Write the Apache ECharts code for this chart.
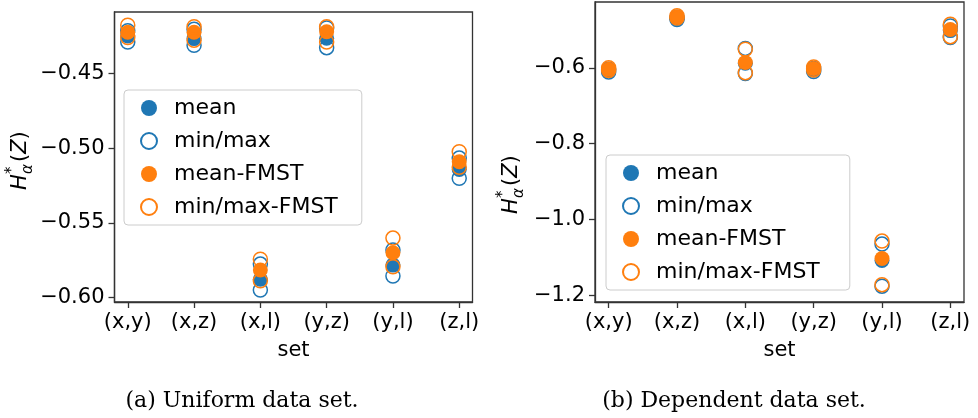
<!DOCTYPE html>
<html>
<head>
<meta charset="utf-8">
<script src="https://cdn.jsdelivr.net/npm/echarts@6/dist/echarts.min.js"></script>
<style>
  html, body { margin: 0; padding: 0; background: #fff; }
  #chart { width: 978px; height: 418px; }
</style>
</head>
<body>
<div id="chart"></div>
<script>
// Pair labels on the x axis
const categories = ['(x,y)', '(x,z)', '(x,l)', '(y,z)', '(y,l)', '(z,l)'];

// Uniform data set
const uniMean  = [-0.4248, -0.4266, -0.5878, -0.4264, -0.5783, -0.5142];
const uniMin   = [-0.4289, -0.4311, -0.5950, -0.4327, -0.5856, -0.5202];
const uniMax   = [-0.4213, -0.4204, -0.5776, -0.4195, -0.5682, -0.5066];
const uniMeanF = [-0.4224, -0.4224, -0.5816, -0.4220, -0.5700, -0.5091];
const uniMinF  = [-0.4259, -0.4277, -0.5888, -0.4289, -0.5794, -0.5128];
const uniMaxF  = [-0.4177, -0.4187, -0.5744, -0.4187, -0.5602, -0.5024];

// Dependent data set
const depMean  = [-0.608, -0.470, -0.588, -0.606, -1.108, -0.502];
const depMin   = [-0.611, -0.473, -0.615, -0.610, -1.176, -0.520];
const depMax   = [-0.604, -0.467, -0.549, -0.602, -1.065, -0.490];
const depMeanF = [-0.604, -0.466, -0.586, -0.602, -1.103, -0.499];
const depMinF  = [-0.607, -0.469, -0.613, -0.606, -1.172, -0.518];
const depMaxF  = [-0.600, -0.463, -0.551, -0.598, -1.057, -0.485];

// Tick values
const uniTicks = [-0.60, -0.55, -0.50, -0.45];
const depTicks = [-1.2, -1.0, -0.8, -0.6];
const xTicks = [0, 1, 2, 3, 4, 5];

const seriesNames = ['mean', 'min/max', 'mean-FMST', 'min/max-FMST'];
const captions = ['(a) Uniform data set.', '(b) Dependent data set.'];

const BLUE = '#1f77b4';
const ORANGE = '#ff7f0e';
const SANS = 'DejaVu Sans';

function pts(vals) { return vals.map((v, i) => [i, v]); }
function minus(s) { return s.replace('-', '\u2212'); }

function xAxisFor(gridIndex) {
  return {
    gridIndex, type: 'value', min: -0.2, max: 5.2,
    name: 'set', nameLocation: 'middle', nameGap: 38,
    nameTextStyle: { fontFamily: SANS, fontSize: 21, color: '#000' },
    axisLine: { show: true, onZero: false, lineStyle: { color: '#333', width: 1.3 } },
    axisTick: { show: true, customValues: xTicks, length: 6, inside: false, lineStyle: { color: '#333', width: 1.3 } },
    axisLabel: { customValues: xTicks, margin: 10, fontFamily: SANS, fontSize: 21, color: '#000',
                 formatter: v => categories[Math.round(v)] },
    splitLine: { show: false }
  };
}

function yAxisFor(gridIndex, min, max, ticks, digits) {
  return {
    gridIndex, type: 'value', min, max,
    axisLine: { show: true, onZero: false, lineStyle: { color: '#333', width: 1.3 } },
    axisTick: { show: true, customValues: ticks, length: 6, lineStyle: { color: '#333', width: 1.3 } },
    axisLabel: { customValues: ticks, margin: 10, fontFamily: SANS, fontSize: 21, color: '#000',
                 formatter: v => minus(v.toFixed(digits)) },
    splitLine: { show: false }
  };
}

function panelSeries(idx, mean, mn, mx, meanF, mnF, mxF) {
  const filled = (name, color, data) => ({
    name, type: 'scatter', xAxisIndex: idx, yAxisIndex: idx,
    symbol: 'circle', symbolSize: 15, data,
    itemStyle: { color, opacity: 1 }
  });
  const open = (name, color, data) => ({
    name, type: 'scatter', xAxisIndex: idx, yAxisIndex: idx,
    symbol: 'circle', symbolSize: 14, data,
    itemStyle: { color: 'rgba(255,255,255,0)', borderColor: color, borderWidth: 1.5, opacity: 1 }
  });
  return [
    filled('mean', BLUE, pts(mean)),
    open('min/max', BLUE, pts(mn).concat(pts(mx))),
    filled('mean-FMST', ORANGE, pts(meanF)),
    open('min/max-FMST', ORANGE, pts(mnF).concat(pts(mxF)))
  ];
}

function legendFor(left, top, padRight) {
  return {
    orient: 'vertical', left, top,
    data: seriesNames,
    itemWidth: 30, itemHeight: 16, itemGap: 11,
    padding: [7, padRight, 7, 16],
    backgroundColor: 'rgba(255,255,255,0.8)',
    borderColor: '#cccccc', borderWidth: 1, borderRadius: 4,
    selectedMode: false,
    textStyle: { fontFamily: SANS, fontSize: 22, color: '#000', padding: [0, 0, 0, 5] }
  };
}

// Rotated y-axis title H*_alpha(Z)
function yTitle(cx, cy) {
  return {
    type: 'group', x: cx, y: cy, rotation: Math.PI / 2,
    children: [
      { type: 'text', x: -32, y: 0, style: { text: 'H', font: 'italic 21px "DejaVu Sans"', fill: '#000', textAlign: 'left', textVerticalAlign: 'middle' } },
      { type: 'text', x: -16, y: -9, style: { text: '*', font: '15px "DejaVu Sans"', fill: '#000', textAlign: 'left', textVerticalAlign: 'middle' } },
      { type: 'text', x: -16, y: 7, style: { text: 'α', font: 'italic 15px "DejaVu Sans"', fill: '#000', textAlign: 'left', textVerticalAlign: 'middle' } },
      { type: 'text', x: -4, y: 0, style: { text: '({z|Z})', font: '21px "DejaVu Sans"', fill: '#000', textAlign: 'left', textVerticalAlign: 'middle',
          rich: { z: { fontFamily: SANS, fontStyle: 'italic', fontSize: 21, fill: '#000' } } } }
    ]
  };
}

const chart = echarts.init(document.getElementById('chart'), null, { renderer: 'canvas' });
chart.setOption({
  animation: false,
  backgroundColor: '#fff',
  grid: [
    { left: 114.5, top: 12, width: 358, height: 290, show: true, borderColor: '#333', borderWidth: 1.3, backgroundColor: 'transparent' },
    { left: 595, top: 2, width: 369, height: 300, show: true, borderColor: '#333', borderWidth: 1.3, backgroundColor: 'transparent' }
  ],
  xAxis: [xAxisFor(0), xAxisFor(1)],
  yAxis: [
    yAxisFor(0, -0.6030, -0.4088, uniTicks, 2),
    yAxisFor(1, -1.2177, -0.4266, depTicks, 1)
  ],
  legend: [legendFor(124, 90, 24), legendFor(606, 155, 30)],
  series: [].concat(
    panelSeries(0, uniMean, uniMin, uniMax, uniMeanF, uniMinF, uniMaxF),
    panelSeries(1, depMean, depMin, depMax, depMeanF, depMinF, depMaxF)
  ),
  graphic: [
    yTitle(21, 158),
    yTitle(512, 182),
    { type: 'text', x: 242, y: 401, style: { text: captions[0], font: '22px "DejaVu Serif"', fill: '#000', textAlign: 'center', textVerticalAlign: 'middle' } },
    { type: 'text', x: 734, y: 401, style: { text: captions[1], font: '22px "DejaVu Serif"', fill: '#000', textAlign: 'center', textVerticalAlign: 'middle' } }
  ]
});
</script>
</body>
</html>
